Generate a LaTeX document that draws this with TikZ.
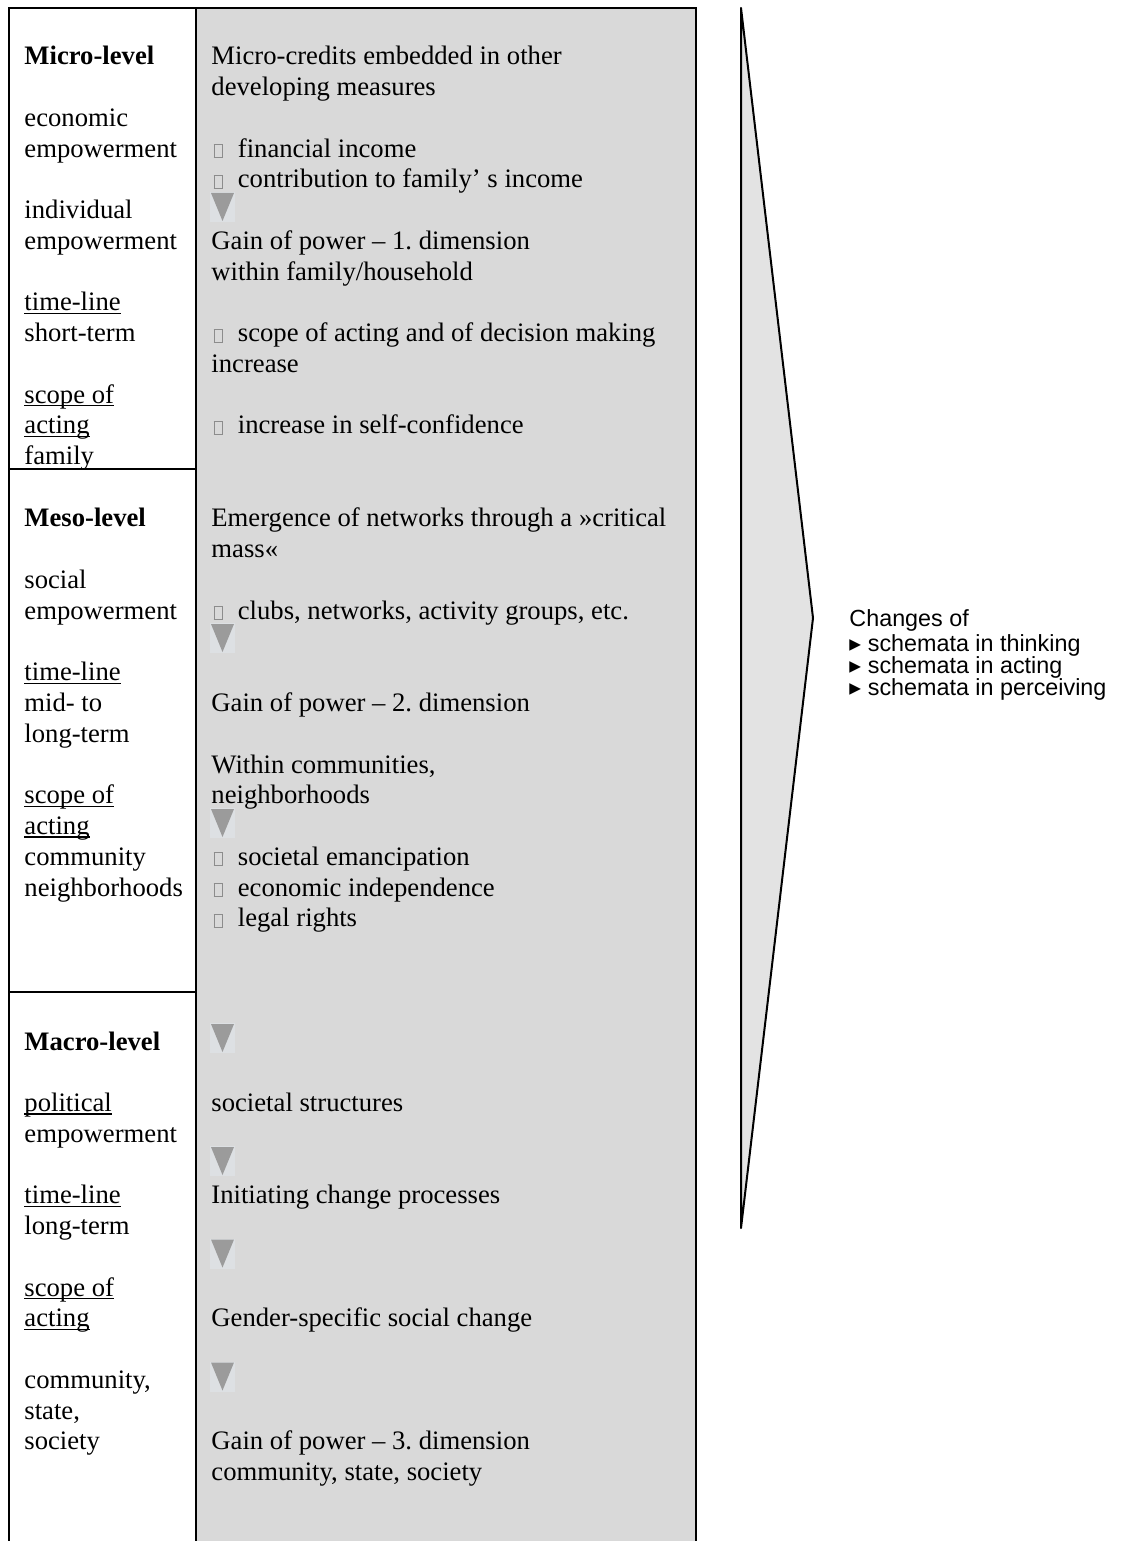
\documentclass[tikz,border=0pt]{standalone}
\usepackage{fontspec}
\setmainfont{Liberation Serif}
\newfontfamily\arialfont{Liberation Sans}
\newfontfamily\symfont{DejaVu Sans}
\usetikzlibrary{positioning}

\definecolor{boxgray}{HTML}{D9D9D9}
\definecolor{arrowgray}{HTML}{E3E3E3}
\definecolor{trigray}{HTML}{9B9B9B}
\definecolor{triback}{HTML}{DDE0E3}

% little empty box in front of the items
\newcommand{\chk}{\hspace*{1pt}{\color{black!45}\setlength{\fboxsep}{0pt}\setlength{\fboxrule}{0.35pt}\fbox{\rule{0pt}{5.6pt}\hspace{3.6pt}}}\hspace*{3.6pt}}
% underline close to the baseline
\newcommand{\ul}[1]{\setbox0\hbox{#1}\rlap{\rule[-1.4pt]{\wd0}{0.55pt}}\box0}

\begin{document}
\begin{tikzpicture}[x=0.45pt,y=-0.45pt,
    lbl/.style={anchor=base west,inner sep=0pt,font=\fontsize{12}{14}\selectfont},
    rlbl/.style={anchor=base west,inner sep=0pt,font=\arialfont\fontsize{10.5}{12}\selectfont},
    frame/.style={line width=0.7pt}]
    \useasboundingbox (0,0) rectangle (1121,1541);
    \clip (0,0) rectangle (1121,1541);

    % the two columns
    \draw[frame] (9,1560) -- (9,8) -- (196,8);
    \filldraw[frame,fill=boxgray] (196,1560) -- (196,8) -- (696,8) -- (696,1560);
    \draw[frame] (9,469) -- (196,469);
    \draw[frame,line width=0.9pt] (9,992) -- (196,992);

    % big arrow on the right
    \filldraw[line width=0.9pt,fill=arrowgray,line join=round] (741,8) -- (813,618) -- (741,1228) -- cycle;

    % down arrows
    \foreach \b in {219,650,835,1050,1173,1265.5,1388.5} {
      \fill[triback] (210,{\b-27}) rectangle (235,{\b+3});
      \fill[trigray] (211,{\b-26}) -- (234,{\b-26}) -- (222.5,{\b+2}) -- cycle;
    }

    % micro-level
    \foreach \k/\txt [count=\i] in {0/\textbf{Micro-level},2/economic,3/empowerment,5/individual,6/empowerment,
        8/\ul{time-line},9/short-term,11/\ul{scope of},12/\ul{acting},13/family}
      \node[lbl] (micL\i) at (24,{65+30.75*\k}) {\txt};
    \foreach \k/\txt [count=\i] in {0/Micro-credits embedded in other,1/developing measures,
        3/\chk{} financial income,4/\chk{} contribution to family’ s income,
        6/Gain of power – 1.\ dimension,7/{within family/household},
        9/\chk{} scope of acting and of decision making,10/increase,12/\chk{} increase in self-confidence}
      \node[lbl] (micR\i) at (211,{65+30.75*\k}) {\txt};

    % meso-level
    \foreach \k/\txt [count=\i] in {0/\textbf{Meso-level},2/social,3/empowerment,5/\ul{time-line},6/mid- to,
        7/long-term,9/\ul{scope of},10/\ul{acting},11/community,12/neighborhoods}
      \node[lbl] (mesL\i) at (24,{527+30.75*\k}) {\txt};
    \foreach \k/\txt [count=\i] in {0/Emergence of networks through a »critical,1/mass«,
        3/{\chk{} clubs, networks, activity groups, etc.},6/Gain of power – 2.\ dimension,
        8/{Within communities,},9/neighborhoods,
        11/\chk{} societal emancipation,12/\chk{} economic independence,13/\chk{} legal rights}
      \node[lbl] (mesR\i) at (211,{527+30.75*\k}) {\txt};

    % macro-level
    \foreach \k/\txt [count=\i] in {0/\textbf{Macro-level},2/\ul{political},3/empowerment,5/\ul{time-line},
        6/long-term,8/\ul{scope of},9/\ul{acting},11/{community,},12/{state,},13/society}
      \node[lbl] (macL\i) at (24,{1050+30.75*\k}) {\txt};
    \foreach \k/\txt [count=\i] in {2/societal structures,5/Initiating change processes,
        9/Gender-specific social change,13/Gain of power – 3.\ dimension,14/{community, state, society}}
      \node[lbl] (macR\i) at (211,{1050+30.75*\k}) {\txt};

    % changes
    \node[rlbl] (chg) at (849,626) {Changes of};
    \foreach \t [count=\i] in {thinking,acting,perceiving}
      \node[rlbl] (chg\i) at (849,{629+22.3*\i}) {{\symfont ▸}\hspace{3pt}schemata in \t};
\end{tikzpicture}
\end{document}
